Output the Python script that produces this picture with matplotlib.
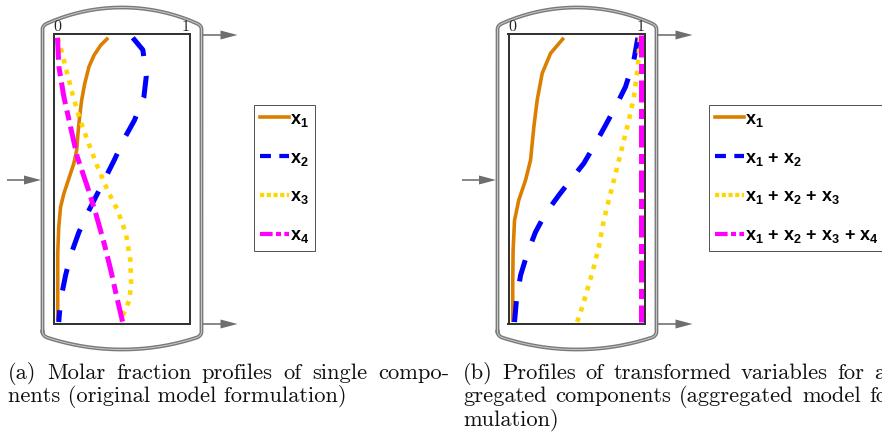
import numpy as np
import matplotlib
matplotlib.use("Agg")
import matplotlib.pyplot as plt
from matplotlib.lines import Line2D
from matplotlib.patches import Polygon

plt.rcParams['mathtext.fontset'] = 'custom'
plt.rcParams['mathtext.bf'] = 'Liberation Sans:bold'
plt.rcParams['mathtext.rm'] = 'Liberation Sans:bold'
plt.rcParams['mathtext.it'] = 'Liberation Sans:bold'

# ---------------- data (height along column 0=bottom, 1=top) ----------------
# panel (a): single components
h_a_x1 = [0.987, 0.962, 0.927, 0.887, 0.829, 0.772, 0.714, 0.656, 0.599, 0.553, 0.501, 0.449, 0.402, 0.333, 0.241, 0.010]
a_x1 = [0.396, 0.339, 0.286, 0.246, 0.213, 0.189, 0.173, 0.160, 0.150, 0.128, 0.089, 0.050, 0.024, 0.010, 0.002, 0.002]

h_a_x2 = [0.987, 0.945, 0.852, 0.783, 0.702, 0.639, 0.564, 0.460, 0.391, 0.316, 0.235, 0.166, 0.080, 0.005]
a_x2 = [0.588, 0.667, 0.693, 0.675, 0.601, 0.522, 0.443, 0.325, 0.246, 0.168, 0.102, 0.063, 0.024, 0.010]

h_a_x3 = [0.987, 0.933, 0.864, 0.795, 0.714, 0.633, 0.541, 0.460, 0.391, 0.310, 0.218, 0.138, 0.080, 0.040, 0.005]
a_x3 = [0.002, 0.037, 0.076, 0.116, 0.168, 0.234, 0.313, 0.391, 0.470, 0.535, 0.569, 0.575, 0.561, 0.522, 0.490]

h_a_x4 = [0.987, 0.887, 0.783, 0.679, 0.575, 0.472, 0.380, 0.276, 0.183, 0.103, 0.005]
a_x4 = [0.000, 0.011, 0.050, 0.102, 0.155, 0.234, 0.299, 0.365, 0.417, 0.457, 0.509]

# panel (b): aggregated (cumulative) variables
h_b_s1 = [0.987, 0.933, 0.864, 0.772, 0.679, 0.564, 0.495, 0.426, 0.356, 0.253, 0.138, 0.005]
b_s1 = [0.401, 0.297, 0.232, 0.193, 0.167, 0.141, 0.102, 0.049, 0.016, 0.005, 0.002, 0.002]

h_b_s2 = [0.987, 0.910, 0.818, 0.760, 0.685, 0.622, 0.553, 0.495, 0.443, 0.380, 0.316, 0.241, 0.166, 0.080, 0.005]
b_s2 = [0.979, 0.948, 0.883, 0.818, 0.727, 0.648, 0.557, 0.453, 0.362, 0.258, 0.180, 0.115, 0.063, 0.031, 0.016]

h_b_s3 = [0.987, 0.887, 0.783, 0.702, 0.610, 0.518, 0.426, 0.356, 0.264, 0.195, 0.114, 0.056, 0.005]
b_s3 = [0.995, 0.979, 0.948, 0.909, 0.857, 0.805, 0.752, 0.713, 0.674, 0.635, 0.583, 0.544, 0.505]

h_b_s4 = [0.995, 0.005]
b_s4 = [1.0, 1.0]

labels_a = [r'$\mathbf{x_1}$', r'$\mathbf{x_2}$', r'$\mathbf{x_3}$', r'$\mathbf{x_4}$']
labels_b = [r'$\mathbf{x_1}$',
            r'$\mathbf{x_1}$ + $\mathbf{x_2}$',
            r'$\mathbf{x_1}$ + $\mathbf{x_2}$ + $\mathbf{x_3}$',
            r'$\mathbf{x_1}$ + $\mathbf{x_2}$ + $\mathbf{x_3}$ + $\mathbf{x_4}$']
tick_labels = ['0', '1']
caption_a = ["(a) Molar fraction profiles of single compo-",
             "nents (original model formulation)"]
caption_b = ["(b) Profiles of transformed variables for ag-",
             "gregated components (aggregated model for-",
             "mulation)"]

# ---------------- styling ----------------
W, H = 882, 437
DPI = 100
PX = 72.0 / DPI  # points per pixel

col_or = '#DC7F00'
col_bl = '#0000FF'
col_ye = '#FFD700'
col_mg = '#FF00FF'

styles = [
    dict(color=col_or, lw=3.6 * PX, ls='-', solid_capstyle='butt'),
    dict(color=col_bl, lw=5.0 * PX, ls=(0, (4.4, 4.0))),
    dict(color=col_ye, lw=4.6 * PX, ls=(0, (1.0, 1.4))),
    dict(color=col_mg, lw=5.0 * PX, ls=(0, (4.4, 1.3, 2.0, 1.3))),
]
leg_styles = [
    dict(color=col_or, lw=3.6 * PX, ls='-'),
    dict(color=col_bl, lw=4.2 * PX, ls=(0, (2.6, 2.0))),
    dict(color=col_ye, lw=4.2 * PX, ls=(0, (1.0, 0.6))),
    dict(color=col_mg, lw=4.2 * PX, ls=(0, (3.0, 0.8, 1.2, 0.8))),
]

fig = plt.figure(figsize=(W / DPI, H / DPI), dpi=DPI)
fig.patch.set_facecolor('white')

bg = fig.add_axes([0, 0, 1, 1])
bg.set_xlim(0, W)
bg.set_ylim(H, 0)
bg.axis('off')

wall_col = '#7a7a7a'
arrow_col = '#6e6e6e'


def bez(p0, p1, p2, n=12):
    t = np.linspace(0, 1, n)[:, None]
    p0, p1, p2 = map(np.array, (p0, p1, p2))
    return (1 - t) ** 2 * p0 + 2 * (1 - t) * t * p1 + t ** 2 * p2


def arc(xa, xb, y_end, y_apex, n=60):
    c = (xb - xa) / 2.0
    s = abs(y_end - y_apex)
    R = (c * c + s * s) / (2 * s)
    xm = (xa + xb) / 2.0
    th = np.arcsin(c / R)
    a = np.linspace(-th, th, n)
    xs = xm + R * np.sin(a)
    if y_apex < y_end:
        ys = y_apex + R - R * np.cos(a)
    else:
        ys = y_apex - R + R * np.cos(a)
    return np.column_stack([xs, ys])


def vessel(dx):
    xl, xr = 42.5 + dx, 201.5 + dx
    pts = []
    pts.append([[xl, 331.5], [xl, 29.5]])
    pts.append(bez((xl, 29.5), (xl, 25.5), (xl + 4.5, 23.5)))
    pts.append(arc(xl + 4.5, xr - 4.5, 23.5, 7.5))
    pts.append(bez((xr - 4.5, 23.5), (xr, 25.5), (xr, 29.5)))
    pts.append([[xr, 29.5], [xr, 331.5]])
    pts.append(bez((xr, 331.5), (xr, 335.5), (xr - 4.5, 337.5)))
    pts.append(arc(xl + 4.5, xr - 4.5, 337.5, 349.5)[::-1])
    pts.append(bez((xl + 4.5, 337.5), (xl, 335.5), (xl, 331.5)))
    P = np.vstack([np.asarray(p, float) for p in pts])
    bg.plot(P[:, 0], P[:, 1], color=wall_col, lw=3.8 * PX, solid_joinstyle='round')
    bg.plot(P[:, 0], P[:, 1], color='#c8c8c8', lw=1.0 * PX, solid_joinstyle='round')

    def arrow(x0, x1, y):
        bg.plot([x0, x1 - 15], [y, y], color=arrow_col, lw=1.6 * PX, solid_capstyle='butt')
        bg.add_patch(Polygon([[x1, y], [x1 - 17, y - 4.5], [x1 - 17, y + 4.5]],
                             closed=True, color=arrow_col, lw=0))
    arrow(xr + 1.5, xr + 36, 35)
    arrow(xr + 1.5, xr + 36, 324)
    arrow(7 + dx, xl - 1.5, 180)


vessel(0)
vessel(455)


def panel(x0, data, labels, leg_x):
    ax = fig.add_axes([x0 / W, 1 - 323.5 / H, 136 / W, 289.5 / H])
    ax.set_xlim(-0.031, 1.031)
    ax.set_ylim(0, 1)
    ax.set_facecolor('white')
    for sp in ax.spines.values():
        sp.set_color('#333333')
        sp.set_linewidth(2.0 * PX)
    ax.xaxis.tick_top()
    ax.set_xticks([0, 1])
    ax.set_xticklabels(tick_labels, family='cmr10', fontsize=11.5, color='#222222')
    ax.tick_params(axis='x', length=0, pad=0.2)
    ax.set_yticks([])
    for (xs, hs), st in zip(data, styles):
        ax.plot(xs, hs, **st)
    handles = [Line2D([0], [0], **st) for st in leg_styles]
    leg = fig.legend(handles, labels, loc='upper left',
                     bbox_to_anchor=(leg_x / W, 1 - 105 / H),
                     borderaxespad=0, fancybox=False, frameon=True,
                     handlelength=1.6, handletextpad=0.1,
                     labelspacing=1.15, borderpad=0.32,
                     prop={'size': 13, 'family': 'Liberation Sans', 'weight': 'bold'})
    fr = leg.get_frame()
    fr.set_edgecolor('#555555')
    fr.set_linewidth(1.0 * PX)
    fr.set_alpha(1)
    return ax


panel(53.5, [(a_x1, h_a_x1), (a_x2, h_a_x2), (a_x3, h_a_x3), (a_x4, h_a_x4)], labels_a, 254)
panel(508.5, [(b_s1, h_b_s1), (b_s2, h_b_s2), (b_s3, h_b_s3), (b_s4, h_b_s4)], labels_b, 709)

# ---------------- captions (justified like the LaTeX source) ----------------
cap_fs = 16.2
cap_kw = dict(family='cmr10', fontsize=cap_fs, va='baseline', ha='left', color='#111111')
renderer = fig.canvas.get_renderer()


def caption_line(x, y, text, width=None):
    if width is None:
        fig.text(x / W, 1 - y / H, text, **cap_kw)
        return
    words = text.split(' ')
    objs = [fig.text(0, 0, w, **cap_kw) for w in words]
    widths = [o.get_window_extent(renderer).width for o in objs]
    gap = (width - sum(widths)) / (len(words) - 1)
    pos = x
    for o, w in zip(objs, widths):
        o.set_position((pos / W, 1 - y / H))
        pos += w + gap


line_w = 441
y0, dy = 379, 23.5
caption_line(8, y0, caption_a[0], line_w)
caption_line(8, y0 + dy, caption_a[1])
caption_line(463, y0, caption_b[0], line_w)
caption_line(463, y0 + dy, caption_b[1], line_w)
caption_line(463, y0 + 2 * dy, caption_b[2])

fig.savefig('out.png', dpi=DPI)
